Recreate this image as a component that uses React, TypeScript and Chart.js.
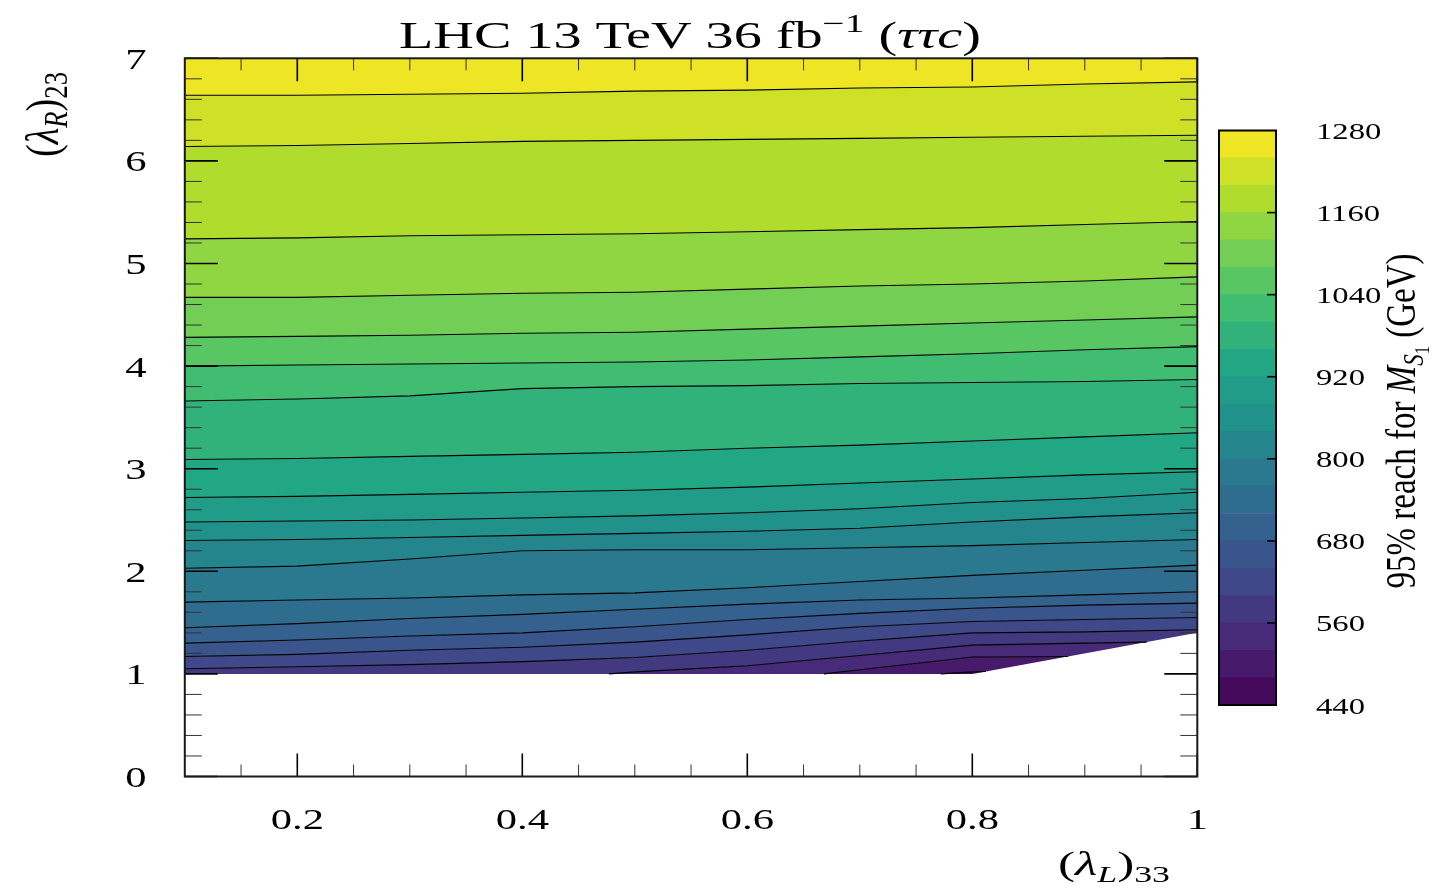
import React, { useEffect, useRef } from 'react';
import { Chart, registerables } from 'chart.js';
Chart.register(...registerables);

// ---------- data ----------
const xs = [0.1, 0.2, 0.3, 0.4, 0.5, 0.6, 0.7, 0.8, 0.9, 1.0];

// contour lines spanning the whole x range (y values at xs)
const c600 = [1.05, 1.07, 1.09, 1.12, 1.16, 1.23, 1.32, 1.40, 1.41, 1.43];
const c640 = [1.17, 1.19, 1.23, 1.26, 1.31, 1.38, 1.46, 1.51, 1.53, 1.55];
const c680 = [1.30, 1.33, 1.37, 1.40, 1.46, 1.53, 1.59, 1.64, 1.67, 1.69];
const c720 = [1.45, 1.49, 1.54, 1.58, 1.63, 1.68, 1.72, 1.74, 1.77, 1.80];
const c760 = [1.70, 1.72, 1.74, 1.77, 1.79, 1.84, 1.90, 1.96, 2.01, 2.06];
const c800 = [2.03, 2.05, 2.12, 2.20, 2.21, 2.21, 2.23, 2.25, 2.28, 2.31];
const c840 = [2.30, 2.31, 2.33, 2.35, 2.37, 2.39, 2.42, 2.48, 2.53, 2.57];
const c880 = [2.48, 2.49, 2.50, 2.52, 2.54, 2.57, 2.61, 2.67, 2.71, 2.77];
const c920 = [2.72, 2.73, 2.75, 2.77, 2.79, 2.82, 2.86, 2.90, 2.94, 2.97];
const c960 = [3.09, 3.10, 3.12, 3.14, 3.16, 3.20, 3.23, 3.27, 3.31, 3.35];
const c1000 = [3.66, 3.68, 3.71, 3.78, 3.80, 3.81, 3.83, 3.84, 3.85, 3.87];
const c1040 = [4.00, 4.01, 4.02, 4.03, 4.04, 4.06, 4.09, 4.12, 4.16, 4.19];
const c1080 = [4.28, 4.29, 4.30, 4.32, 4.33, 4.36, 4.39, 4.42, 4.45, 4.48];
const c1120 = [4.67, 4.67, 4.69, 4.71, 4.72, 4.75, 4.78, 4.80, 4.83, 4.87];
const c1160 = [5.24, 5.25, 5.27, 5.28, 5.29, 5.31, 5.33, 5.35, 5.38, 5.41];
const c1200 = [6.14, 6.15, 6.17, 6.19, 6.20, 6.21, 6.22, 6.23, 6.24, 6.25];
const c1240 = [6.64, 6.64, 6.65, 6.66, 6.68, 6.69, 6.71, 6.72, 6.75, 6.77];

// partial contour lines ([x, y] points)
const c480 = [[0.772, 1.0], [0.8, 1.02], [0.812, 1.024]];
const c520 = [[0.668, 1.0], [0.7, 1.04], [0.8, 1.165], [0.885, 1.17]];
const c560 = [[0.477, 1.0], [0.5, 1.02], [0.6, 1.08], [0.7, 1.18], [0.8, 1.28], [0.9, 1.30], [0.955, 1.31]];

// lower edge of the data region
const boundary = [[0.1, 1.0], [0.8, 1.0], [1.0, 1.40]];
const yTop = 7;

// colour levels (GeV)
const levels = [440, 480, 520, 560, 600, 640, 680, 720, 760, 800, 840, 880, 920, 960, 1000, 1040, 1080, 1120, 1160, 1200, 1240, 1280];
const cbTicks = [440, 560, 680, 800, 920, 1040, 1160, 1280];

const xTickVals = [0.2, 0.4, 0.6, 0.8, 1.0];
const xTickLabels = ['0.2', '0.4', '0.6', '0.8', '1'];
const yTickVals = [0, 1, 2, 3, 4, 5, 6, 7];
const yTickLabels = ['0', '1', '2', '3', '4', '5', '6', '7'];

// ---------- helpers ----------
const VIR = ['#440154', '#482475', '#414487', '#355f8d', '#2a788e', '#21918c', '#22a884', '#44bf70', '#7ad151', '#bddf26', '#fde725'];
function hex(h: string) { return [1, 3, 5].map(i => parseInt(h.slice(i, i + 2), 16)); }
function viridis(t: number) {
  const f = Math.max(0, Math.min(1, t)) * (VIR.length - 1);
  const i = Math.min(VIR.length - 2, Math.floor(f));
  const u = f - i;
  const a = hex(VIR[i]), b = hex(VIR[i + 1]);
  const c = a.map((v, k) => Math.round(v + (b[k] - v) * u));
  return `rgb(${c[0]},${c[1]},${c[2]})`;
}
const nBands = levels.length - 1;
const bandColor = (k: number) => viridis((k + 0.5) / nBands);

const toPts = (arr: number[][]) => arr.map(([x, y]) => ({ x, y }));
const fullLine = (ys: number[]) => xs.map((x, i) => [x, ys[i]]);

const contours: { level: number; pts: number[][] }[] = [
  { level: 480, pts: c480 },
  { level: 520, pts: c520 },
  { level: 560, pts: c560 },
  { level: 600, pts: fullLine(c600) },
  { level: 640, pts: fullLine(c640) },
  { level: 680, pts: fullLine(c680) },
  { level: 720, pts: fullLine(c720) },
  { level: 760, pts: fullLine(c760) },
  { level: 800, pts: fullLine(c800) },
  { level: 840, pts: fullLine(c840) },
  { level: 880, pts: fullLine(c880) },
  { level: 920, pts: fullLine(c920) },
  { level: 960, pts: fullLine(c960) },
  { level: 1000, pts: fullLine(c1000) },
  { level: 1040, pts: fullLine(c1040) },
  { level: 1080, pts: fullLine(c1080) },
  { level: 1120, pts: fullLine(c1120) },
  { level: 1160, pts: fullLine(c1160) },
  { level: 1200, pts: fullLine(c1200) },
  { level: 1240, pts: fullLine(c1240) },
];

function effective(pts: number[][]) {
  const x0 = pts[0][0], x1 = pts[pts.length - 1][0];
  const before = boundary.filter(p => p[0] < x0 - 1e-6);
  const after = boundary.filter(p => p[0] > x1 + 1e-6);
  return [...before, ...pts, ...after];
}

const FONT = '"Liberation Serif", "Times New Roman", "DejaVu Serif", serif';
const SX = 1.42;
type Part = { t: string; it?: boolean; s?: number };

function drawRich(ctx: CanvasRenderingContext2D, parts: Part[], x: number, y: number, size: number,
  o: { align?: string; rotate?: boolean; len?: number } = {}) {
  const sz = (p: Part) => (p.s === 1 || p.s === -1 ? size * 0.7 : p.s === 2 ? size * 0.5 : size);
  const font = (p: Part) => `${p.it ? 'italic ' : ''}${sz(p)}px ${FONT}`;
  const dy = (p: Part) => (p.s === 1 ? size * 0.2 : p.s === 2 ? size * 0.34 : p.s === -1 ? -size * 0.42 : 0);
  ctx.save();
  const ws = parts.map(p => { ctx.font = font(p); return ctx.measureText(p.t).width; });
  const W = ws.reduce((a, b) => a + b, 0);
  const k = o.len ? o.len / W : o.rotate ? 1 : SX;
  ctx.translate(x, y);
  if (o.rotate) { ctx.rotate(-Math.PI / 2); ctx.scale(k, SX); } else { ctx.scale(k, 1); }
  let cx = o.align === 'left' ? 0 : o.align === 'right' ? -W : -W / 2;
  ctx.fillStyle = '#000';
  ctx.textAlign = 'left';
  ctx.textBaseline = 'alphabetic';
  parts.forEach((p, i) => { ctx.font = font(p); ctx.fillText(p.t, cx, dy(p)); cx += ws[i]; });
  ctx.restore();
}

// ---------- layout ----------
const W_ALL = 1432, H_ALL = 891;
const AREA = { left: 184.8, right: 1197.3, top: 58.3, bottom: 776.5 };
const CB_LEFT = 1200, CB_W = 232;
const CB_AREA = { left: 1219, right: 1276, top: 130.5, bottom: 705 };

const mainDeco = {
  id: 'mainDeco',
  afterDraw(chart: any) {
    const { ctx, chartArea: a, scales } = chart;
    const x = scales.x, y = scales.y;
    ctx.save();
    // minor / major ticks (inward, all sides)
    const xMinor: number[] = [];
    for (let i = 3; i <= 19; i++) { const v = i * 0.05; if (i % 4 !== 0) xMinor.push(v); }
    const yMinor: number[] = [];
    for (let i = 1; i < 35; i++) { if (i % 5 !== 0) yMinor.push(i * 0.2); }
    const line = (x1: number, y1: number, x2: number, y2: number) => { ctx.beginPath(); ctx.moveTo(x1, y1); ctx.lineTo(x2, y2); ctx.stroke(); };
    ctx.strokeStyle = '#333'; ctx.lineWidth = 1;
    xMinor.forEach(v => { const p = x.getPixelForValue(v); line(p, a.bottom, p, a.bottom - 12); line(p, a.top, p, a.top + 12); });
    yMinor.forEach(v => { const p = y.getPixelForValue(v); line(a.left, p, a.left + 17, p); line(a.right, p, a.right - 17, p); });
    ctx.strokeStyle = '#000'; ctx.lineWidth = 1.6;
    xTickVals.forEach(v => { const p = x.getPixelForValue(v); line(p, a.bottom, p, a.bottom - 23); line(p, a.top, p, a.top + 23); });
    yTickVals.forEach(v => { const p = y.getPixelForValue(v); line(a.left, p, a.left + 33, p); line(a.right, p, a.right - 33, p); });
    // frame
    ctx.strokeStyle = '#1a1a1a'; ctx.lineWidth = 2;
    ctx.strokeRect(a.left, a.top, a.right - a.left, a.bottom - a.top);
    ctx.restore();

    // tick labels
    xTickVals.forEach((v, i) => drawRich(ctx, [{ t: xTickLabels[i] }], x.getPixelForValue(v), 829, 30));
    yTickVals.forEach((v, i) => drawRich(ctx, [{ t: yTickLabels[i] }], 136, y.getPixelForValue(v) + 10.5, 30));

    // title
    drawRich(ctx, [
      { t: 'LHC 13 TeV 36 fb' }, { t: '\u22121', s: -1 }, { t: ' (' }, { t: '\u03c4\u03c4c', it: true }, { t: ')' },
    ], 690, 48, 37, { len: 582 });

    // axis titles
    drawRich(ctx, [{ t: '(' }, { t: '\u03bb', it: true }, { t: 'L', it: true, s: 1 }, { t: ')' }, { t: '33', s: 1 }],
      1114, 875, 33, { len: 112 });
    drawRich(ctx, [{ t: '(' }, { t: '\u03bb', it: true }, { t: 'R', it: true, s: 1 }, { t: ')' }, { t: '23', s: 1 }],
      58, 114.5, 33, { rotate: true, len: 85 });
  },
};

const cbDeco = {
  id: 'cbDeco',
  afterDraw(chart: any) {
    const { ctx, chartArea: a, scales } = chart;
    const y = scales.y;
    ctx.save();
    ctx.strokeStyle = '#000'; ctx.lineWidth = 1.6;
    cbTicks.slice(1, -1).forEach(v => {
      const p = y.getPixelForValue(v);
      ctx.beginPath(); ctx.moveTo(a.right, p); ctx.lineTo(a.right - 9, p); ctx.stroke();
    });
    ctx.lineWidth = 2;
    ctx.strokeRect(a.left, a.top, a.right - a.left, a.bottom - a.top);
    ctx.restore();
    cbTicks.forEach(v => drawRich(ctx, [{ t: String(v) }], 1316 - CB_LEFT, y.getPixelForValue(v) + 8.5, 23, { align: 'left' }));
    drawRich(ctx, [
      { t: '95% reach for ' }, { t: 'M', it: true }, { t: 'S', it: true, s: 1 }, { t: '1', s: 2 }, { t: ' (GeV)' },
    ], 1415 - CB_LEFT, 421, 29, { rotate: true, len: 335 });
  },
};

export default function App() {
  const mainRef = useRef<HTMLCanvasElement>(null);
  const cbRef = useRef<HTMLCanvasElement>(null);

  useEffect(() => {
    // fill datasets: boundary, effective contour curves, top edge (drawn underneath: order 1)
    const fillSets: any[] = [];
    fillSets.push({
      data: toPts(boundary), borderColor: 'rgba(0,0,0,0)', borderWidth: 0, pointRadius: 0, fill: false, order: 1,
    });
    contours.forEach((c, k) => {
      fillSets.push({
        data: toPts(effective(c.pts)), borderColor: 'rgba(0,0,0,0)', borderWidth: 0, pointRadius: 0,
        backgroundColor: bandColor(k), fill: '-1', order: 1,
      });
    });
    fillSets.push({
      data: toPts([[xs[0], yTop], [xs[xs.length - 1], yTop]]), borderColor: 'rgba(0,0,0,0)', borderWidth: 0,
      pointRadius: 0, backgroundColor: bandColor(nBands - 1), fill: '-1', order: 1,
    });
    // contour strokes on top (order 0)
    const strokeSets = contours.map(c => ({
      data: toPts(c.pts), borderColor: '#000', borderWidth: 1.1, pointRadius: 0, fill: false, order: 0,
    }));

    const c1 = new Chart(mainRef.current as HTMLCanvasElement, {
      type: 'line',
      data: { datasets: [...fillSets, ...strokeSets] },
      options: {
        animation: false,
        responsive: false,
        devicePixelRatio: 1,
        events: [],
        elements: { line: { tension: 0 } },
        layout: {
          padding: { left: AREA.left, right: W_ALL - AREA.right, top: AREA.top, bottom: H_ALL - AREA.bottom },
        },
        plugins: { legend: { display: false }, tooltip: { enabled: false }, title: { display: false } },
        scales: {
          x: { type: 'linear', min: 0.1, max: 1, display: false },
          y: { type: 'linear', min: 0, max: 7, display: false },
        },
      } as any,
      plugins: [mainDeco],
    });

    const cbSets = levels.slice(0, -1).map((lo, i) => ({
      data: [[lo, levels[i + 1]]],
      backgroundColor: bandColor(i),
      borderWidth: 0,
      grouped: false,
      barPercentage: 1,
      categoryPercentage: 1,
    }));
    const c2 = new Chart(cbRef.current as HTMLCanvasElement, {
      type: 'bar',
      data: { labels: ['M'], datasets: cbSets as any },
      options: {
        animation: false,
        responsive: false,
        devicePixelRatio: 1,
        events: [],
        layout: {
          padding: {
            left: CB_AREA.left - CB_LEFT, right: CB_W - (CB_AREA.right - CB_LEFT),
            top: CB_AREA.top, bottom: H_ALL - CB_AREA.bottom,
          },
        },
        plugins: { legend: { display: false }, tooltip: { enabled: false } },
        scales: {
          x: { display: false },
          y: { type: 'linear', min: levels[0], max: levels[levels.length - 1], display: false },
        },
      } as any,
      plugins: [cbDeco],
    });

    return () => { c1.destroy(); c2.destroy(); };
  }, []);

  return (
    <div style={{ position: 'absolute', left: 0, top: 0, width: W_ALL, height: H_ALL, background: '#fff' }}>
      <canvas ref={mainRef} width={W_ALL} height={H_ALL}
        style={{ position: 'absolute', left: 0, top: 0, width: W_ALL, height: H_ALL }} />
      <canvas ref={cbRef} width={CB_W} height={H_ALL}
        style={{ position: 'absolute', left: CB_LEFT, top: 0, width: CB_W, height: H_ALL }} />
    </div>
  );
}
